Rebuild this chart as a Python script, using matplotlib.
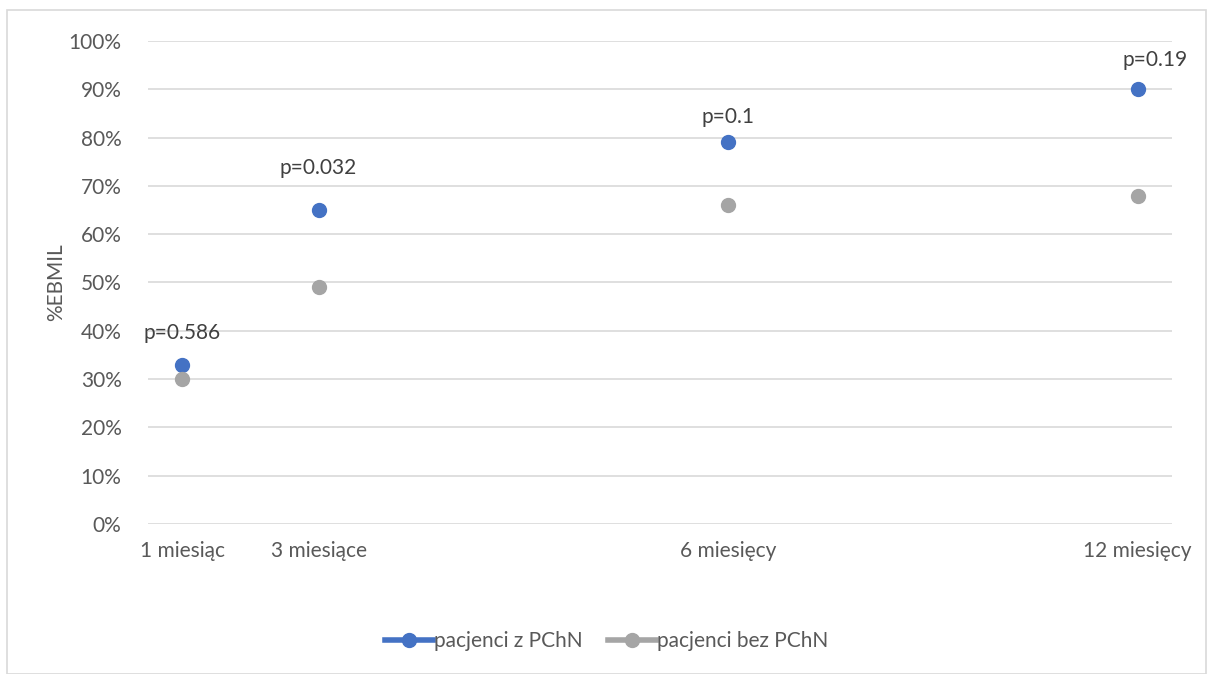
import matplotlib
matplotlib.use("Agg")
import matplotlib.pyplot as plt
from matplotlib.patches import Rectangle
from matplotlib.ticker import PercentFormatter

categories = ["1 miesiąc", "3 miesiące", "6 miesięcy", "12 miesięcy"]
x_pos = [1, 2, 5, 8]
with_pchn = [33, 65, 79, 90]
without_pchn = [30, 49, 66, 68]
p_labels = ["p=0.586", "p=0.032", "p=0.1", "p=0.19"]
p_label_x = [1, 2, 5, 8.13]
p_label_y = [39.5, 73.7, 84.3, 96.0]

plt.rcParams['font.family'] = ['Lato', 'DejaVu Sans']

fig = plt.figure(figsize=(12.13, 6.74), dpi=100)
ax = fig.add_axes([0.122, 0.2226, 0.844, 0.7166])

blue = "#4472C4"
gray = "#A5A5A5"
txt = "#595959"
fs = 15

ax.plot(x_pos, with_pchn, linestyle="none", marker="o", markersize=10,
        color=blue, label="pacjenci z PChN", zorder=3)
ax.plot(x_pos, without_pchn, linestyle="none", marker="o", markersize=10,
        color=gray, label="pacjenci bez PChN", zorder=3)

for lx, ly, lab in zip(p_label_x, p_label_y, p_labels):
    ax.text(lx, ly, lab, ha="center", va="center", fontsize=fs, color="#404040")

ax.set_xlim(0.75, 8.25)
ax.set_ylim(0, 100)
ax.set_yticks(range(0, 101, 10))
ax.yaxis.set_major_formatter(PercentFormatter(decimals=0))
ax.set_xticks(x_pos)
ax.set_xticklabels(categories)
ax.grid(axis="y", color="#D9D9D9", linewidth=1.2)
ax.set_axisbelow(True)
for s in ax.spines.values():
    s.set_visible(False)
ax.tick_params(axis="both", length=0, labelsize=fs, colors=txt)
ax.tick_params(axis="x", pad=12)
ax.tick_params(axis="y", pad=19)
ax.set_ylabel("%EBMIL", fontsize=fs, color=txt, labelpad=2)

handles = [
    plt.Line2D([0], [0], color=blue, lw=4, marker="o", markersize=10),
    plt.Line2D([0], [0], color=gray, lw=4, marker="o", markersize=10),
]
fig.legend(handles, ["pacjenci z PChN", "pacjenci bez PChN"], loc="center",
           bbox_to_anchor=(0.5, 1 - 641 / 674), ncol=2, frameon=False,
           fontsize=fs, labelcolor=txt, handlelength=2.3, handletextpad=0.05,
           columnspacing=1.2)

fig.patches.append(Rectangle((7 / 1213, 0), (1206 - 7) / 1213, 1 - 10 / 674,
                             transform=fig.transFigure, fill=False,
                             edgecolor="#D9D9D9", linewidth=1.2))

fig.savefig("out.png", dpi=100)
